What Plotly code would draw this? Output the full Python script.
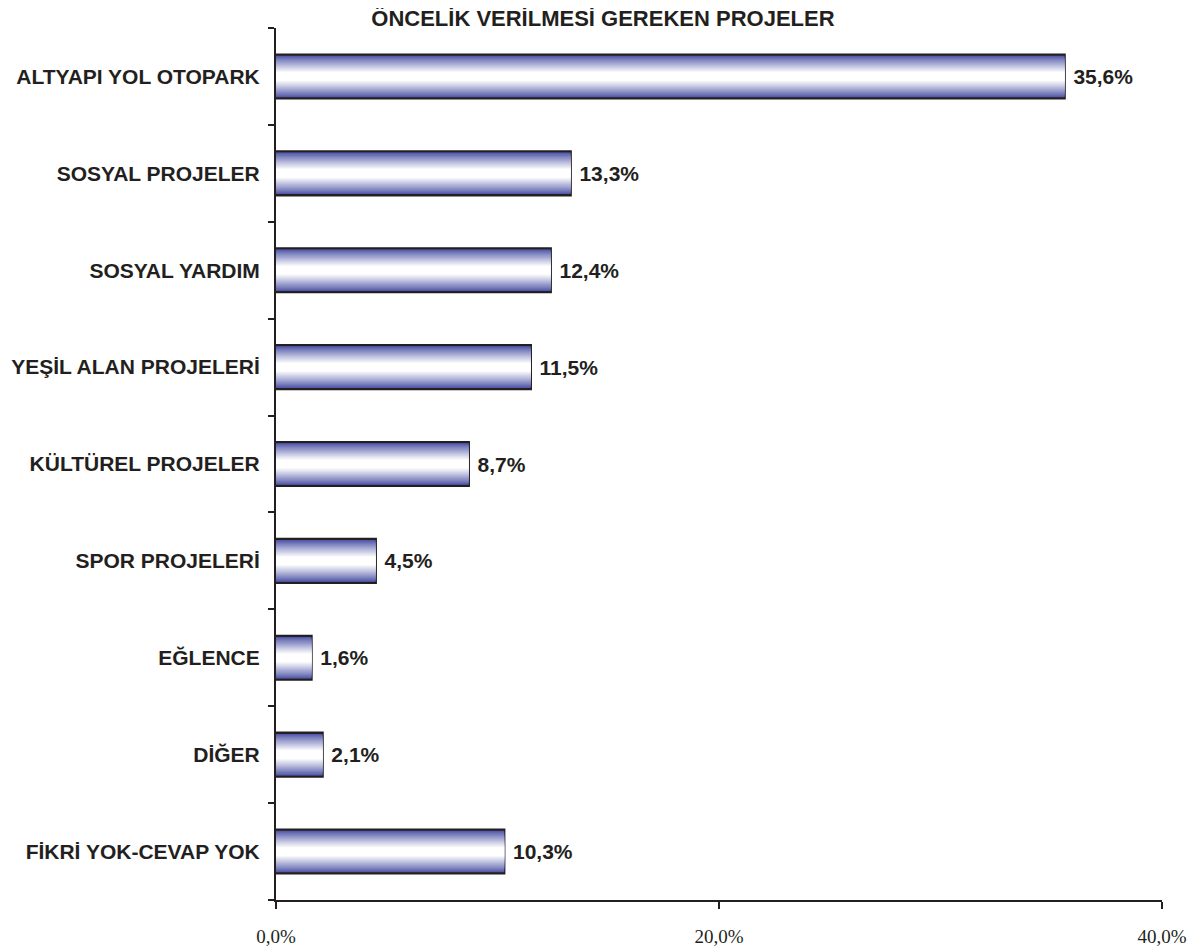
import plotly.graph_objects as go

categories = [
    "ALTYAPI YOL OTOPARK",
    "SOSYAL PROJELER",
    "SOSYAL YARDIM",
    "YEŞİL ALAN PROJELERİ",
    "KÜLTÜREL PROJELER",
    "SPOR PROJELERİ",
    "EĞLENCE",
    "DİĞER",
    "FİKRİ YOK-CEVAP YOK",
]
values = [35.6, 13.3, 12.4, 11.5, 8.7, 4.5, 1.6, 2.1, 10.3]
x_ticks = [0, 20, 40]

EDGE = (70, 76, 162)
INK = "#231f20"
BAR_WIDTH = 0.45
LAYERS = 18


def _blend(t):
    r, g, b = (int(round(c + (255 - c) * t)) for c in EDGE)
    return f"rgb({r},{g},{b})"


def _pct(v):
    return f"{v:.1f}%".replace(".", ",")


fig = go.Figure()

# fake a vertical gradient: stack narrower, lighter bars on top of each other
for k in range(LAYERS):
    t = k / (LAYERS - 1)
    first = k == 0
    fig.add_trace(
        go.Bar(
            y=categories,
            x=values,
            orientation="h",
            width=BAR_WIDTH * (1 - 0.8 * t),
            marker=dict(
                color=_blend(t ** 0.9),
                line=dict(color=INK, width=2.5 if first else 0),
            ),
            text=["<b>\u00a0" + _pct(v) + "</b>" for v in values] if first else None,
            textposition="outside" if first else "none",
            textfont=dict(family="Liberation Sans", size=21, color=INK),
            cliponaxis=False,
            hoverinfo="skip",
            showlegend=False,
        )
    )

# the page body adds an 8px offset, so margins are trimmed by that much
fig.update_layout(
    width=1198,
    height=949,
    barmode="overlay",
    paper_bgcolor="#ffffff",
    plot_bgcolor="#ffffff",
    margin=dict(l=268, r=44, t=20, b=57),
    font=dict(family="Liberation Sans", color=INK),
    title=dict(
        text="<b>ÖNCELİK VERİLMESİ GEREKEN PROJELER</b>",
        x=0.4966,
        xanchor="center",
        y=0.9895,
        yanchor="middle",
        font=dict(size=22, color=INK),
    ),
    xaxis=dict(
        range=[0, 40],
        tickvals=x_ticks,
        ticktext=[_pct(v) for v in x_ticks],
        ticks="outside",
        ticklen=7,
        tickwidth=2,
        tickcolor=INK,
        showline=True,
        linecolor=INK,
        linewidth=2,
        showgrid=False,
        zeroline=False,
        automargin=False,
        ticklabelstandoff=11,
        tickfont=dict(family="Liberation Serif", size=19, color=INK),
    ),
    yaxis=dict(
        autorange="reversed",
        tickson="boundaries",
        ticks="outside",
        ticklen=6,
        tickwidth=2,
        tickcolor=INK,
        showline=True,
        linecolor=INK,
        linewidth=2,
        showgrid=False,
        automargin=False,
        tickvals=categories,
        ticktext=["<b>" + c + "</b>" for c in categories],
        ticklabelstandoff=10,
        tickfont=dict(family="Liberation Sans", size=21, color=INK),
    ),
)

fig.write_html("out.html")
